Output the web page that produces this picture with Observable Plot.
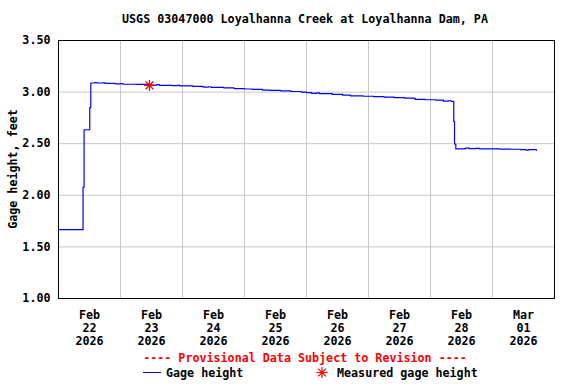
<!DOCTYPE html>
<html><head><meta charset="utf-8">
<script src="https://cdn.jsdelivr.net/npm/d3@7"></script>
<script src="https://cdn.jsdelivr.net/npm/@observablehq/plot@0.6"></script>
<style>body{margin:0;background:#fff} #chart{width:576px;height:384px}</style>
</head><body><div id="chart"></div>
<script>
const title = "USGS 03047000 Loyalhanna Creek at Loyalhanna Dam, PA";
const yLabel = "Gage height, feet";
const provisional = "---- Provisional Data Subject to Revision ----";
const seriesNames = ["Gage height", "Measured gage height"];
// hours since 2026-02-22 00:00
const gageHours = [0, 9.5, 9.9, 12.1, 12.5, 14, 15, 17, 18, 22, 24, 25, 30, 35.6, 38, 39, 44, 46, 47, 52, 56, 58, 59, 64, 68, 72, 75, 79, 82, 86, 90, 94, 96, 98, 100, 101, 106, 110, 113, 118, 122, 126, 130, 134, 138, 142, 146, 149, 151, 152, 153.0, 153.3, 153.8, 157, 157.5, 159, 161.4, 163, 171, 175, 178.8, 181, 182, 185];
const gageValues = [1.667, 2.08, 2.635, 2.85, 3.088, 3.092, 3.088, 3.09, 3.084, 3.08, 3.082, 3.076, 3.074, 3.068, 3.072, 3.066, 3.062, 3.066, 3.06, 3.055, 3.048, 3.052, 3.046, 3.04, 3.034, 3.03, 3.026, 3.02, 3.016, 3.012, 3.006, 3.0, 2.995, 2.988, 2.992, 2.986, 2.978, 2.97, 2.964, 2.96, 2.956, 2.952, 2.946, 2.942, 2.93, 2.926, 2.922, 2.912, 2.916, 2.91, 2.714, 2.497, 2.449, 2.452, 2.458, 2.452, 2.455, 2.45, 2.448, 2.446, 2.442, 2.438, 2.442, 2.437];
const measuredHours = [35.2];
const measuredValues = [3.065];
const yTicks = [1.00, 1.50, 2.00, 2.50, 3.00, 3.50];
const dayTicks = ["2026-02-22", "2026-02-23", "2026-02-24", "2026-02-25", "2026-02-26", "2026-02-27", "2026-02-28", "2026-03-01", "2026-03-02"];

const t0 = new Date(2026, 1, 22);
const toDate = h => new Date(t0.getTime() + h * 3600e3);
const parseDay = s => { const [y, m, d] = s.split("-").map(Number); return new Date(y, m - 1, d); };
const days = dayTicks.map(parseDay);
const gridDates = days;
const labelDates = days.slice(0, -1).map(d => new Date(d.getTime() + 12 * 3600e3));
const gage = gageHours.map((h, i) => ({t: toDate(h), v: gageValues[i]}));
const measured = measuredHours.map((h, i) => ({t: toDate(h), v: measuredValues[i]}));

const star8 = {
  draw(ctx, size) {
    const r = Math.sqrt(size / Math.PI);
    for (let k = 0; k < 4; k++) {
      const a = k * Math.PI / 4;
      ctx.moveTo(r * Math.cos(a), r * Math.sin(a));
      ctx.lineTo(-r * Math.cos(a), -r * Math.sin(a));
    }
  }
};
const fmt = d3.timeFormat("%b\n%d\n%Y");
const font = "DejaVu Sans Mono";
const fsize = "11.7px";

const chart = Plot.plot({
  width: 576, height: 384,
  marginLeft: 58, marginRight: 22, marginTop: 40, marginBottom: 86,
  style: {fontFamily: font, fontSize: fsize, fontWeight: "bold", color: "#000", background: "#fff"},
  x: {type: "time", domain: [days[0], days[days.length - 1]]},
  y: {domain: [1, 3.5]},
  marks: [
    Plot.gridX(gridDates, {stroke: "#c8c8c8", strokeOpacity: 1}),
    Plot.gridY(yTicks, {stroke: "#c8c8c8", strokeOpacity: 1}),
    Plot.axisX(labelDates, {tickSize: 0, tickPadding: 11, tickFormat: fmt, lineHeight: 1.12, label: null, fill: "#000"}),
    Plot.axisY(yTicks, {tickSize: 0, tickPadding: 8, tickFormat: d => d.toFixed(2), label: null, fill: "#000"}),
    Plot.line(gage, {x: "t", y: "v", stroke: "#0000ff", strokeWidth: 1.2, curve: "step-after"}),
    Plot.dot(measured, {x: "t", y: "v", symbol: star8, r: 5.5, stroke: "#ff0000", strokeWidth: 1.2}),
    Plot.frame({stroke: "#000", strokeWidth: 1})
  ]
});
document.getElementById("chart").appendChild(chart);

const svg = d3.select(chart);
const txt = (x, y, s, opts = {}) => svg.append("text")
  .attr("x", x).attr("y", y).attr("dy", "0.35em")
  .attr("text-anchor", opts.anchor || "middle")
  .attr("font-family", font).attr("font-weight", "bold").attr("font-size", fsize)
  .attr("fill", opts.fill || "#000")
  .attr("transform", opts.rotate ? `rotate(-90 ${x} ${y})` : null)
  .text(s);
txt(305, 19, title);
txt(13, 169, yLabel, {rotate: true});
txt(305, 358, provisional, {fill: "#ff0000"});
svg.append("line").attr("x1", 143).attr("x2", 161).attr("y1", 372.5).attr("y2", 372.5).attr("stroke", "#0000ff").attr("stroke-width", 1);
txt(166, 373, seriesNames[0], {anchor: "start"});
svg.append("path").attr("transform", "translate(322,372.5)")
  .attr("d", d3.symbol(star8, Math.PI * 5.5 * 5.5)()).attr("stroke", "#ff0000").attr("stroke-width", 1.2).attr("fill", "none");
txt(337, 373, seriesNames[1], {anchor: "start"});
</script></body></html>
